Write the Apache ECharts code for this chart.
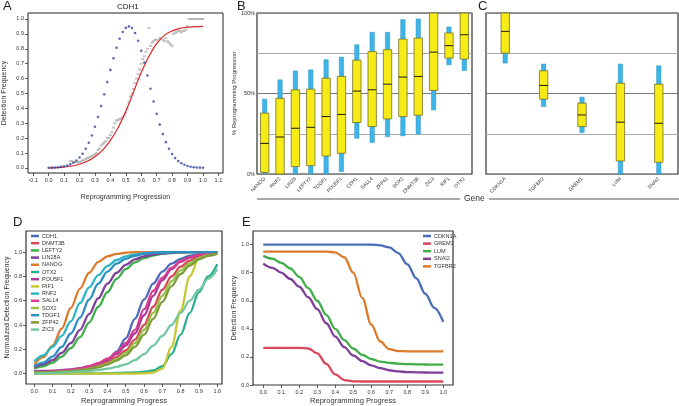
<!DOCTYPE html>
<html><head><meta charset="utf-8">
<script src="https://cdn.jsdelivr.net/npm/echarts@6/dist/echarts.min.js"></script>
<style>html,body{margin:0;padding:0;background:#fff}#c{width:679px;height:406px}</style>
</head><body><div id="c"></div>
<script>
// ---------- Panel A (CDH1) ----------
const blueX = [0,0.02,0.04,0.06,0.08,0.1,0.12,0.14,0.16,0.18,0.2,0.22,0.24,0.26,0.28,0.3,0.32,0.34,0.36,0.38,0.4,0.42,0.44,0.46,0.48,0.5,0.52,0.54,0.56,0.58,0.6,0.62,0.64,0.66,0.68,0.7,0.72,0.74,0.76,0.78,0.8,0.82,0.84,0.86,0.88,0.9,0.92,0.94,0.96,0.98,1.0];
const blueY = [0.001,0.002,0.003,0.004,0.007,0.011,0.016,0.024,0.035,0.050,0.070,0.095,0.128,0.169,0.218,0.276,0.342,0.415,0.494,0.576,0.658,0.736,0.807,0.867,0.912,0.940,0.95,0.939,0.906,0.854,0.786,0.707,0.620,0.532,0.446,0.364,0.291,0.227,0.173,0.129,0.093,0.066,0.046,0.031,0.021,0.013,0.008,0.005,0.003,0.002,0.001];
const redX = [0,0.05,0.1,0.15,0.2,0.25,0.3,0.35,0.4,0.45,0.5,0.55,0.6,0.65,0.7,0.75,0.8,0.85,0.9,0.95,1.0];
const redY = [0.0,0.002,0.006,0.013,0.025,0.045,0.075,0.12,0.185,0.27,0.38,0.51,0.64,0.75,0.835,0.89,0.92,0.937,0.945,0.948,0.95];
const grayX = [0.14,0.15,0.16,0.17,0.18,0.19,0.2,0.21,0.22,0.23,0.24,0.25,0.26,0.27,0.28,0.29,0.3,0.31,0.32,0.33,0.34,0.35,0.36,0.37,0.38,0.39,0.4,0.41,0.42,0.43,0.44,0.45,0.46,0.47,0.48,0.49,0.5,0.51,0.52,0.53,0.54,0.55,0.56,0.57,0.58,0.59,0.6,0.61,0.62,0.63,0.64,0.65,0.66,0.67,0.68,0.69,0.7,0.72,0.74,0.75,0.76,0.77,0.78,0.79,0.8,0.81,0.82,0.83,0.84,0.85,0.86,0.87,0.88,0.89,0.9,0.91,0.92,0.93,0.94,0.95,0.96,0.97,0.98,0.99,1.0];
const grayY = [0.045,0.045,0.04,0.04,0.04,0.035,0.04,0.045,0.05,0.05,0.06,0.065,0.07,0.075,0.08,0.085,0.09,0.1,0.12,0.13,0.15,0.16,0.17,0.18,0.2,0.2,0.22,0.24,0.27,0.3,0.32,0.32,0.33,0.33,0.34,0.35,0.37,0.4,0.44,0.48,0.5,0.53,0.57,0.6,0.63,0.66,0.7,0.73,0.75,0.78,0.8,0.94,0.82,0.84,0.85,0.86,0.86,0.87,0.86,0.85,0.87,0.85,0.84,0.83,0.82,0.9,0.91,0.91,0.92,0.92,0.91,0.92,0.92,0.93,0.95,1.0,1.0,1.0,1.0,1.0,1.0,1.0,1.0,1.0,1.0];
const ticksA_x = [-0.1,0,0.1,0.2,0.3,0.4,0.5,0.6,0.7,0.8,0.9,1.0,1.1];
const ticksA_y = [0,0.1,0.2,0.3,0.4,0.5,0.6,0.7,0.8,0.9,1.0];

// ---------- Panel B / C (range bars, % progression) ----------
const genesB = ['NANOG','RNF2','LIN28','LEFTY2','TDGF1','POU5F1','CDH1','SALL4','ZFP42','SOX2','DNMT3B','ZIC3','RIF1','OTX2'];
const lowB  = [0.5,0,0,0,0,1.5,22.2,19.5,23.2,23.7,24.9,39.8,67.8,64.3];
const q1B   = [1,0,4.6,5.2,11.2,12.9,32,29.5,34.2,35.7,36.5,51.9,72,71.4];
const medB  = [19,23,28.4,29,35.7,37,51.5,52.3,55.8,60.2,60.6,75.7,79.7,86.5];
const q3B   = [37.8,47,52.3,52.7,59.5,60.6,70.7,76,77.2,83.8,84.4,100,87.6,100];
const highB = [46.5,58.5,64,64.7,71,72.6,80.3,88,88,95.9,96.3,100,91.3,100];
const genesC = ['CDKN1A','TGFBR2','GREM1','LUM','SNAI2'];
const lowC  = [68.9,41.9,25.7,0,0];
const q1C   = [75.1,46.5,29.5,8.1,7.3];
const medC  = [88.6,55,36.7,32.2,31.5];
const q3C   = [100,64.1,44,56.4,55.8];
const highC = [100,68.3,47.7,68.3,67.2];

// ---------- Panel D / E (fitted curves) ----------
const progress = [0,0.05,0.1,0.15,0.2,0.25,0.3,0.35,0.4,0.45,0.5,0.55,0.6,0.65,0.7,0.75,0.8,0.85,0.9,0.95,1.0];
const ticksDE_x = [0,0.1,0.2,0.3,0.4,0.5,0.6,0.7,0.8,0.9,1.0];
const ticksDE_y = [0,0.2,0.4,0.6,0.8,1.0];
const genesD = ['CDH1','DNMT3B','LEFTY2','LIN28A','NANOG','OTX2','POU5F1','RIF1','RNF2','SALL4','SOX2','TDGF1','ZFP42','ZIC3'];
const colorsD = ['#4b6cb7','#d9475b','#3fae49','#7d3f98','#db7b2b','#2bae8e','#a43a9c','#c8c72f','#2cb7c6','#d93b8f','#95c447','#2d8fc1','#7f9c3b','#72c79f'];
const dCDH1   = [0.01,0.011,0.012,0.014,0.018,0.026,0.04,0.065,0.11,0.18,0.29,0.45,0.61,0.74,0.84,0.905,0.945,0.97,0.985,0.993,1.0];
const dDNMT3B = [0.01,0.011,0.013,0.017,0.023,0.032,0.045,0.065,0.094,0.135,0.19,0.28,0.4,0.55,0.69,0.8,0.88,0.93,0.962,0.98,0.99];
const dLEFTY2 = [0.04,0.06,0.09,0.14,0.21,0.3,0.42,0.55,0.67,0.78,0.86,0.915,0.95,0.972,0.985,0.993,0.997,1,1,1,1];
const dLIN28A = [0.05,0.075,0.11,0.17,0.25,0.36,0.49,0.62,0.74,0.83,0.895,0.94,0.965,0.98,0.99,0.995,0.998,1,1,1,1];
const dNANOG  = [0.075,0.135,0.23,0.37,0.54,0.7,0.83,0.92,0.965,0.985,0.995,1,1,1,1,1,1,1,1,1,1];
const dOTX2   = [0,0,0,0,0,0,0.001,0.002,0.003,0.005,0.007,0.01,0.015,0.025,0.06,0.16,0.32,0.5,0.67,0.8,0.9];
const dPOU5F1 = [0.02,0.021,0.024,0.028,0.035,0.045,0.06,0.083,0.115,0.16,0.23,0.33,0.48,0.64,0.77,0.86,0.92,0.955,0.975,0.988,0.995];
const dRIF1   = [0,0,0,0,0,0,0,0,0,0,0,0,0.002,0.008,0.04,0.22,0.52,0.8,0.95,0.99,1.0];
const dRNF2   = [0.1,0.15,0.22,0.31,0.43,0.58,0.71,0.81,0.885,0.935,0.965,0.982,0.991,0.996,0.998,1,1,1,1,1,1];
const dSALL4  = [0.01,0.011,0.015,0.02,0.028,0.041,0.059,0.086,0.122,0.17,0.25,0.36,0.53,0.68,0.79,0.87,0.925,0.957,0.977,0.989,0.996];
const dSOX2   = [0.01,0.011,0.013,0.016,0.021,0.029,0.04,0.057,0.082,0.118,0.17,0.25,0.36,0.5,0.64,0.76,0.85,0.91,0.95,0.975,0.99];
const dTDGF1  = [0.06,0.09,0.14,0.22,0.33,0.46,0.61,0.74,0.84,0.905,0.945,0.97,0.985,0.993,0.997,1,1,1,1,1,1];
const dZFP42  = [0.01,0.011,0.012,0.015,0.02,0.027,0.037,0.052,0.074,0.106,0.15,0.22,0.32,0.45,0.59,0.72,0.82,0.89,0.94,0.97,0.985];
const dZIC3   = [0,0.002,0.004,0.007,0.011,0.016,0.022,0.03,0.04,0.055,0.075,0.11,0.16,0.23,0.31,0.4,0.5,0.6,0.69,0.78,0.86];
const valuesD = [dCDH1,dDNMT3B,dLEFTY2,dLIN28A,dNANOG,dOTX2,dPOU5F1,dRIF1,dRNF2,dSALL4,dSOX2,dTDGF1,dZFP42,dZIC3];

const genesE = ['CDKN1A','GREM1','LUM','SNAI2','TGFBR2'];
const colorsE = ['#4b6cb7','#d9475b','#3fae49','#7d3f98','#db7b2b'];
const eCDKN1A = [1,1,1,1,1,1,1,1,1,1,1,1,1,0.995,0.98,0.94,0.86,0.76,0.65,0.55,0.45];
const eGREM1  = [0.265,0.265,0.265,0.265,0.265,0.26,0.225,0.15,0.075,0.035,0.026,0.025,0.025,0.025,0.025,0.025,0.025,0.025,0.025,0.025,0.025];
const eLUM    = [0.92,0.9,0.87,0.83,0.77,0.69,0.6,0.5,0.4,0.32,0.26,0.215,0.185,0.167,0.158,0.152,0.149,0.147,0.146,0.145,0.145];
const eSNAI2  = [0.865,0.835,0.8,0.755,0.7,0.625,0.54,0.44,0.345,0.27,0.21,0.17,0.14,0.12,0.105,0.097,0.092,0.09,0.089,0.088,0.088];
const eTGFBR2 = [0.95,0.95,0.95,0.95,0.95,0.95,0.95,0.95,0.945,0.91,0.8,0.62,0.43,0.31,0.255,0.242,0.24,0.24,0.24,0.24,0.24];
const valuesE = [eCDKN1A,eGREM1,eLUM,eSNAI2,eTGFBR2];

// ---------- build ----------
const FONT = 'Liberation Sans, Arial, sans-serif';
const pair = (xs, ys) => xs.map((x, i) => [x, ys[i]]);
const rangeRows = (lo, a, m, b, hi) => lo.map((v, i) => [i, v, a[i], m[i], b[i], hi[i]]);
const fmt1 = v => Number(v).toFixed(1);

function rangeItem(params, api) {
  const i = api.value(0);
  const pLo = api.coord([i, api.value(1)]);
  const pQ1 = api.coord([i, api.value(2)]);
  const pMd = api.coord([i, api.value(3)]);
  const pQ3 = api.coord([i, api.value(4)]);
  const pHi = api.coord([i, api.value(5)]);
  return {type: 'group', children: [
    {type: 'rect', shape: {x: pLo[0] - 2.2, y: pHi[1], width: 4.4, height: pLo[1] - pHi[1]},
     style: {fill: '#3db5e6', stroke: '#2d93c4', lineWidth: 0.5}},
    {type: 'rect', shape: {x: pQ1[0] - 4.2, y: pQ3[1], width: 8.4, height: pQ1[1] - pQ3[1]},
     style: {fill: '#f6eb16', stroke: '#77702a', lineWidth: 0.8}},
    {type: 'line', shape: {x1: pMd[0] - 4.2, y1: pMd[1], x2: pMd[0] + 4.2, y2: pMd[1]},
     style: {stroke: '#1a1a1a', lineWidth: 1}}
  ]};
}

function valAxis(o) {
  return Object.assign({
    type: 'value', axisLine: {show: false, onZero: false}, splitLine: {show: false},
    nameLocation: 'middle', nameTextStyle: {fontSize: 7, color: '#333', fontFamily: FONT}
  }, o);
}
function ticks(vals) {
  return {
    axisTick: {show: true, length: 3, customValues: vals, lineStyle: {color: '#333', width: 0.8}},
    axisLabel: {customValues: vals, formatter: fmt1, fontSize: 5.5, color: '#333', margin: 4, fontFamily: FONT}
  };
}

const chart = echarts.init(document.getElementById('c'), null, {renderer: 'canvas'});
const series = [];
// A
series.push({type: 'scatter', name: 'observed', xAxisIndex: 0, yAxisIndex: 0, data: pair(grayX, grayY),
  symbol: 'rect', symbolSize: [3, 2], itemStyle: {color: '#b2b2b2'}, silent: true, z: 1});
series.push({type: 'scatter', name: 'density', xAxisIndex: 0, yAxisIndex: 0, data: pair(blueX, blueY),
  symbol: 'circle', symbolSize: 2.6, itemStyle: {color: '#34469b'}, silent: true, z: 3});
series.push({type: 'line', name: 'fit', xAxisIndex: 0, yAxisIndex: 0, data: pair(redX, redY),
  smooth: 0.4, showSymbol: false, lineStyle: {color: '#e0262a', width: 1.2}, z: 2});
// B, C
series.push({type: 'custom', xAxisIndex: 1, yAxisIndex: 1, renderItem: rangeItem, data: rangeRows(lowB, q1B, medB, q3B, highB), silent: true});
series.push({type: 'custom', xAxisIndex: 2, yAxisIndex: 2, renderItem: rangeItem, data: rangeRows(lowC, q1C, medC, q3C, highC), silent: true});
// D
genesD.forEach((g, k) => series.push({type: 'line', name: g, xAxisIndex: 3, yAxisIndex: 3,
  data: pair(progress, valuesD[k]), smooth: 0.35, smoothMonotone: 'x', showSymbol: false,
  itemStyle: {color: colorsD[k]}, lineStyle: {color: colorsD[k], width: 2.3}}));
// E
genesE.forEach((g, k) => series.push({type: 'line', name: g, xAxisIndex: 4, yAxisIndex: 4,
  data: pair(progress, valuesE[k]), smooth: 0.35, smoothMonotone: 'x', showSymbol: false,
  itemStyle: {color: colorsE[k]}, lineStyle: {color: colorsE[k], width: 2.3}}));

const pctFmt = v => (v === 0 ? '0%' : v === 50 ? '50%' : v === 100 ? '100%' : '');
const catAxis = (idx, data) => ({type: 'category', gridIndex: idx, data: data, boundaryGap: true,
  axisLine: {show: false, onZero: false}, axisTick: {show: false},
  axisLabel: {rotate: 45, fontSize: 5, color: '#333', margin: 4, interval: 0, fontFamily: FONT}});
const pctAxis = (idx, showLabels, name) => ({type: 'value', gridIndex: idx, min: 0, max: 100, interval: 25,
  axisLine: {show: false, onZero: false}, axisTick: {show: false},
  axisLabel: {show: showLabels, formatter: pctFmt, fontSize: 5.5, color: '#333', margin: 2, fontFamily: FONT},
  splitLine: {show: true, lineStyle: {color: ['#888', '#aaa', '#777', '#aaa', '#888'], width: 1}},
  name: name, nameLocation: 'middle', nameGap: 17, nameTextStyle: {fontSize: 6, color: '#333', fontFamily: FONT}});

const option = {
  animation: false,
  backgroundColor: '#fff',
  textStyle: {fontFamily: FONT},
  grid: [
    {left: 27, top: 13, width: 196, height: 160, show: true, borderColor: '#222', borderWidth: 1, backgroundColor: 'transparent'},
    {left: 257, top: 13, width: 215, height: 161, show: true, borderColor: '#333', borderWidth: 1.2, backgroundColor: 'transparent'},
    {left: 486, top: 13, width: 192, height: 161, show: true, borderColor: '#333', borderWidth: 1.2, backgroundColor: 'transparent'},
    {left: 26, top: 231, width: 196, height: 157, show: true, borderColor: '#333', borderWidth: 1.2, backgroundColor: 'transparent'},
    {left: 253, top: 231, width: 200, height: 158, show: true, borderColor: '#333', borderWidth: 1.2, backgroundColor: 'transparent'}
  ],
  xAxis: [
    valAxis(Object.assign({gridIndex: 0, min: -0.134, max: 1.13, name: 'Reprogramming Progression', nameGap: 21}, ticks(ticksA_x))),
    catAxis(1, genesB),
    catAxis(2, genesC),
    valAxis(Object.assign({gridIndex: 3, min: -0.045, max: 1.026, name: 'Reprogramming Progress', nameGap: 13, nameTextStyle: {fontSize: 7.5, color: '#333', fontFamily: FONT}}, ticks(ticksDE_x))),
    valAxis(Object.assign({gridIndex: 4, min: -0.057, max: 1.054, name: 'Reprogramming Progress', nameGap: 12, nameTextStyle: {fontSize: 7.5, color: '#333', fontFamily: FONT}}, ticks(ticksDE_x)))
  ],
  yAxis: [
    valAxis(Object.assign({gridIndex: 0, min: -0.034, max: 1.04, name: 'Detection Frequency', nameGap: 20}, ticks(ticksA_y))),
    pctAxis(1, true, '% Reprogramming Progression'),
    pctAxis(2, false, ''),
    valAxis(Object.assign({gridIndex: 3, min: -0.086, max: 1.174, name: 'Normalized Detection Frequency', nameGap: 15}, ticks(ticksDE_y))),
    valAxis(Object.assign({gridIndex: 4, min: 0, max: 1.097, name: 'Detection Frequency', nameGap: 15}, ticks(ticksDE_y)))
  ],
  legend: [
    {data: genesD, orient: 'vertical', left: 31, top: 233, icon: 'rect', itemWidth: 8, itemHeight: 2.5, itemGap: 1.2,
     textStyle: {fontSize: 5.5, color: '#333', lineHeight: 5, padding: [0, 0, 0, -2], fontFamily: FONT}, padding: 0, selectedMode: false},
    {data: genesE, orient: 'vertical', left: 423, top: 233, icon: 'rect', itemWidth: 8, itemHeight: 2.5, itemGap: 1.6,
     textStyle: {fontSize: 5.5, color: '#333', lineHeight: 5, padding: [0, 0, 0, -2], fontFamily: FONT}, padding: 0, selectedMode: false}
  ],
  graphic: [
    {type: 'text', left: 3, top: 0, style: {text: 'A', fontSize: 13, fill: '#222', fontFamily: FONT}},
    {type: 'text', left: 237, top: 0, style: {text: 'B', fontSize: 13, fill: '#222', fontFamily: FONT}},
    {type: 'text', left: 478, top: 0, style: {text: 'C', fontSize: 13, fill: '#222', fontFamily: FONT}},
    {type: 'text', left: 13, top: 216, style: {text: 'D', fontSize: 13, fill: '#222', fontFamily: FONT}},
    {type: 'text', left: 242, top: 216, style: {text: 'E', fontSize: 13, fill: '#222', fontFamily: FONT}},
    {type: 'text', left: 117, top: 3, style: {text: 'CDH1', fontSize: 8, fill: '#222', fontFamily: FONT}},
    {type: 'line', shape: {x1: 257, y1: 199, x2: 460, y2: 199}, style: {stroke: '#555', lineWidth: 1.2}},
    {type: 'line', shape: {x1: 489, y1: 199, x2: 679, y2: 199}, style: {stroke: '#555', lineWidth: 1.2}},
    {type: 'text', left: 464, top: 194, style: {text: 'Gene', fontSize: 8.5, fill: '#333', fontFamily: FONT}}
  ],
  series: series
};
chart.setOption(option);
</script></body></html>
